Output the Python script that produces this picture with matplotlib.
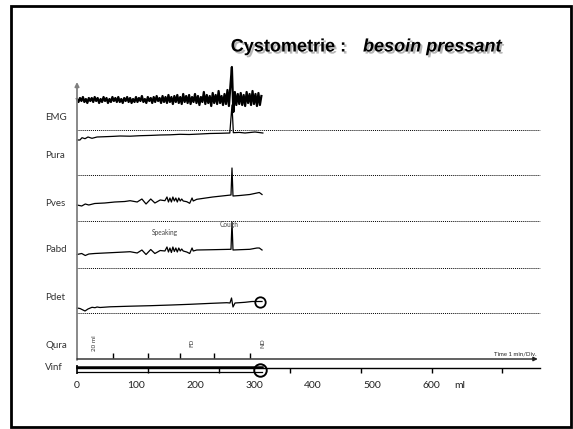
import matplotlib
matplotlib.use("Agg")
import matplotlib.pyplot as plt
import matplotlib.patheffects as pe
from matplotlib.patches import Rectangle

# --- data (x in ml infused, pressures in cmH2O above each track's zero) ---
channels = ["EMG", "Pura", "Pves", "Pabd", "Pdet", "Qura", "Vinf"]

emg_step = 2.5
emg = [1, -2, 2, -1, 3, -2, 1, -3, 2, -1,
       2, -2, 3, -1, 2, -3, 1, -2, 3, -1,
       2, -3, 1, -2, 3, -1, 2, -2, 3, -2,
       1, -3, 2, -1, 3, -2, 2, -3, 1, -2,
       3, -2, 2, -1, 4, -2, 1, -3, 3, -1,
       2, -3, 3, -2, 4, -1, 2, -3, 4, -2,
       3, -3, 5, -2, 3, -4, 4, -2, 5, -3,
       3, -4, 6, -2, 4, -3, 5, -4, 3, -2,
       6, -3, 4, -5, 3, -2, 8, -4, 5, -3,
       4, -6, 7, -3, 5, -4, 9, -3, 4, -5,
       6, -4, 10, -6, 14, 33, -12, 8, -5, 6,
       -4, 7, -5, 5, -6, 8, -3, 6, -5, 9,
       -4, 6, -6, 7, -5, 4]

pura_ml = [0, 5, 8.5, 13.6, 18.6, 25.4, 34, 47.5, 60, 73, 90, 107, 125, 141,
           158, 174.6, 190, 208.5, 225, 242, 259, 262.7, 265, 275, 284.7, 301.7, 315]
pura = [0, 0, 2.3, 1.3, 3, 1.7, 3, 3.3, 3.6, 4, 3.8, 4.3, 4.6, 5,
        5.2, 5.7, 5.5, 6, 6.5, 6.7, 7, 35, 7.3, 7.6, 7, 8, 7]

pves_ml = [0, 8, 14, 20, 30, 47, 64, 81, 90, 102, 110, 117, 125, 132, 141, 149,
           152.5, 155, 157.5, 160, 162.5, 165, 167.5, 170, 172.5, 175, 177.5, 180,
           186, 191, 195, 197, 203, 230, 261, 262.7, 264.4, 276, 293, 305, 309, 313.6]
pves = [2, 1, 3, 2, 3.5, 4, 5, 5.5, 6.3, 5, 8, 3, 8, 4, 7, 6.3,
        10, 5, 9, 5, 10, 6, 9, 5, 9, 6, 8, 6,
        5.3, 3.7, 9, 6, 7.7, 10, 12, 39, 11, 11.5, 12.5, 14, 14.5, 12.5]

pabd_ml = pves_ml
pabd = [1.5, 2.5, 0.5, 2, 2.5, 3, 3.5, 4, 4.3, 3, 6, 1.5, 6.5, 2.5, 5.5, 5,
        9, 4, 8, 3.5, 9, 4.5, 8, 4, 8, 5, 7, 5,
        4, 2.5, 8, 5, 6, 6.3, 6.7, 34, 6, 6.3, 6.7, 8, 8, 6]

pdet_ml = [0, 5, 13.6, 18.6, 25.4, 30.5, 34, 39, 56, 90, 124, 160, 191.5, 225,
           254, 259.3, 261.9, 264.4, 267.8, 284.7, 296.6, 313.6]
pdet = [2, 1.5, -1, 1, 2.7, 2.3, 3, 2.5, 3.2, 3.8, 4.3, 5, 5.7, 6.6,
        7.3, 7, 12, 3, 7, 7.7, 8.5, 8.5]

qura_ticks_ml = [61, 121, 175, 233, 293]
qura_notes = ["20 ml", "FD", "ND"]
qura_notes_ml = [30, 195, 315]

vinf_end_ml = 313
div_ticks_ml = [121, 240, 361, 481, 602, 721]
vol_labels = [0, 100, 200, 300, 400, 500, 600]

events = ["Speaking", "Cough"]
events_ml = [149, 258]

# --- layout (pixel rows of the slide) ---
W, H = 573, 429
PX_PER_ML = 0.59
X0 = 77
zero_row = {"EMG": 100, "Pura": 140, "Pves": 207, "Pabd": 256, "Pdet": 310}
label_row = [117, 156, 203, 250, 297, 346, 368]
dotted_rows = [129.5, 175, 221, 267.5, 313]
AX_END = 785


def px(x):
    # slide pixel column -> ml
    return (x - X0) / PX_PER_ML


lab_font = ["Lato", "DejaVu Sans"]

fig = plt.figure(figsize=(W / 100, H / 100), dpi=100)
ax = fig.add_axes([0, 0, 1, 1])
ax.set_xlim(px(0), px(W))
ax.set_ylim(H, 0)
ax.axis("off")

fig.patches.append(Rectangle((11 / W, 1 - 427 / H), 560 / W, 421 / H,
                             transform=fig.transFigure, fill=False,
                             lw=2, ec="black"))

# title with drop shadow
shadow = [pe.withSimplePatchShadow(offset=(1.5, -1.5), shadow_rgbFace="#888888", alpha=0.6)]
ax.text(px(346), 47, "Cystometrie :", ha="right", va="center", fontsize=13,
        fontweight="bold", family="Liberation Sans", path_effects=shadow)
ax.text(px(363), 47, "besoin pressant", ha="left", va="center", fontsize=13,
        fontweight="bold", style="italic", family="Liberation Sans",
        path_effects=shadow)

# axes arrows
ax.annotate("", xy=(0, 82), xytext=(0, 360),
            arrowprops=dict(arrowstyle="-|>", color="#808080", lw=1.3,
                            mutation_scale=6, shrinkA=0, shrinkB=0))
ax.annotate("", xy=(781, 359), xytext=(0, 359),
            arrowprops=dict(arrowstyle="-|>", color="#222222", lw=1.0,
                            mutation_scale=6, shrinkA=0, shrinkB=0))
ax.text(778, 356.5, "Time 1 min/Div.", ha="right", va="bottom", fontsize=4.3,
        family=lab_font, color="#222222")

ax.hlines(dotted_rows, 0, AX_END, colors="black", lw=0.7, linestyles=(0, (1, 1)))

for name, row in zip(channels, label_row):
    ax.text(px(45), row, name, ha="left", va="center", fontsize=7,
            family=lab_font, color="#333333")

# traces
emg_x = [i * emg_step for i in range(len(emg))]
ax.plot(emg_x, [zero_row["EMG"] - v for v in emg], color="black", lw=1.6)
ax.plot(pura_ml, [zero_row["Pura"] - v for v in pura], color="black", lw=0.9)
ax.plot(pves_ml, [zero_row["Pves"] - v for v in pves], color="black", lw=0.9)
ax.plot(pabd_ml, [zero_row["Pabd"] - v for v in pabd], color="black", lw=0.9)
ax.plot(pdet_ml, [zero_row["Pdet"] - v for v in pdet], color="black", lw=0.9)
ax.plot([vinf_end_ml - 2], [302], "o", ms=7.5, mfc="none", mec="black", mew=1.3)

ax.text(events_ml[0], 232, events[0], ha="center", va="center", fontsize=4.8,
        family=lab_font, color="#444444")
ax.text(events_ml[1], 224, events[1], ha="center", va="center", fontsize=4.8,
        family=lab_font, color="#444444")

# Qura
ax.vlines(qura_ticks_ml, 353, 357.5, colors="black", lw=1.0)
for note, xm in zip(qura_notes, qura_notes_ml):
    ax.text(xm, 343, note, rotation=90, ha="center", va="center", fontsize=4.5,
            family=lab_font, color="#333333")

# Vinf bar
ax.plot([0, AX_END], [367.5, 367.5], color="black", lw=1.0)
ax.plot([0, vinf_end_ml], [366.7, 366.7], color="black", lw=1.8)
ax.plot([0, vinf_end_ml], [372, 372], color="black", lw=0.9)
ax.vlines([0], 364.5, 374, colors="black", lw=1.2)
ax.vlines(div_ticks_ml, 367.5, 373, colors="black", lw=1.0)
ax.plot([vinf_end_ml - 2], [369.5], "o", ms=9, mfc="none", mec="black", mew=1.4)

for v in vol_labels:
    ax.text(v, 386, str(v), ha="center", va="center", fontsize=7.5,
            family=lab_font, color="#222222")
ax.text(px(460), 386, "ml", ha="center", va="center",
        fontsize=7.5, family=lab_font, color="#222222")

fig.savefig("out.png", dpi=100)
